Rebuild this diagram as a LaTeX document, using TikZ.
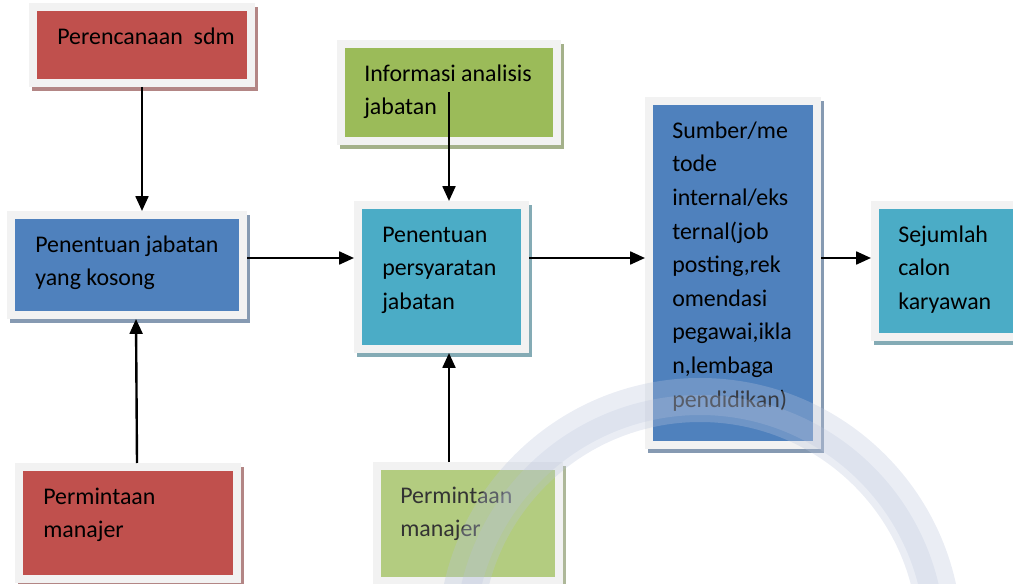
\documentclass[tikz,border=0pt]{standalone}
\usepackage{fontspec}
\setmainfont{Carlito}
\usetikzlibrary{arrows.meta}
\definecolor{merah}{HTML}{C0504D}
\definecolor{biru}{HTML}{4F81BD}
\definecolor{hijau}{HTML}{9BBB59}
\definecolor{hijaumuda}{HTML}{B3CC80}
\definecolor{tosca}{HTML}{4BACC6}
\definecolor{bingkai}{HTML}{F2F2F2}
\definecolor{samar}{HTML}{B9C4DC}

\tikzset{
  kotak/.style n args={3}{rectangle, fill=#1, draw=bingkai, line width=0.2cm,
    minimum width=#2*0.025cm, minimum height=#3*0.025cm, inner sep=0pt, outer sep=0.1cm,
    preaction={fill=#1!50!gray!80!white, draw=#1!50!gray!80!white,
      transform canvas={xshift=0.075cm, yshift=-0.1cm}}},
  teks/.style={anchor=north west, align=left, inner sep=0pt,
    font=\fontsize{17}{23.9}\selectfont},
  panah/.style={line width=1.7pt, -{Triangle[length=0.37cm, width=0.32cm]}},
}

\begin{document}
\begin{tikzpicture}[x=0.025cm, y=-0.025cm]
  \useasboundingbox (0,0) rectangle (1013,584);
  \clip (0,0) rectangle (1013,584);
  % kotak-kotak
  \node[kotak={merah}{218}{76}] (sdm) at (142,45) {};
  \node[kotak={biru}{232}{100}] (kosong) at (127,265) {};
  \node[kotak={hijau}{216}{97}] (info) at (449,92.5) {};
  \node[kotak={tosca}{167}{144}] (syarat) at (441.5,277) {};
  \node[kotak={biru}{168}{344}] (sumber) at (733,273) {};
  \node[kotak={tosca}{159}{132}] (calon) at (954.5,271) {};
  \node[kotak={merah}{218}{112}] (manajer1) at (128,523) {};
  \node[kotak={hijaumuda}{182}{115}] (manajer2) at (468,523.5) {};
  % teks
  \node[teks] (sdm-teks) at (57,20.5) {\strut Perencanaan\ \ sdm};
  \node[teks] (kosong-teks) at (35,228.5) {\strut Penentuan jabatan\\yang kosong};
  \node[teks] (info-teks) at (364,57.5) {\strut Informasi analisis\\jabatan};
  \node[teks] (syarat-teks) at (382,218.5) {\strut Penentuan\\persyaratan\\jabatan};
  \node[teks] (sumber-teks) at (672,114.5) {\strut Sumber/me\\tode\\internal/eks\\ternal(job\\posting,rek\\omendasi\\pegawai,ikla\\n,lembaga\\pendidikan)};
  \node[teks] (calon-teks) at (898,218.5) {\strut Sejumlah\\calon\\karyawan};
  \node[teks] (manajer1-teks) at (43,480.5) {\strut Permintaan\\manajer};
  \node[teks, text=black!80] (manajer2-teks) at (400,479.5) {\strut Permintaan\\manajer};
  % panah
  \coordinate (tengah) at (0,258);
  \draw[panah] (sdm.south) -- (sdm.south |- kosong.north);
  \draw[panah] ([xshift=0.225cm]manajer1.north) -- ([xshift=0.225cm]kosong.south);
  \draw[panah] (kosong.east |- tengah) -- (syarat.west |- tengah);
  \draw[panah] (info.center) -- (info.center |- syarat.north);
  \draw[panah] (manajer2.north -| info.center) -- (syarat.south -| info.center);
  \draw[panah] (syarat.east |- tengah) -- (sumber.west |- tengah);
  \draw[panah] (sumber.east |- tengah) -- (calon.west |- tengah);
  % tanda air
  \draw[samar, line width=1.1cm, opacity=0.3] (700,640) circle [radius=240];
  \draw[samar, line width=0.5cm, opacity=0.25] (700,640) circle [radius=235];
\end{tikzpicture}
\end{document}
